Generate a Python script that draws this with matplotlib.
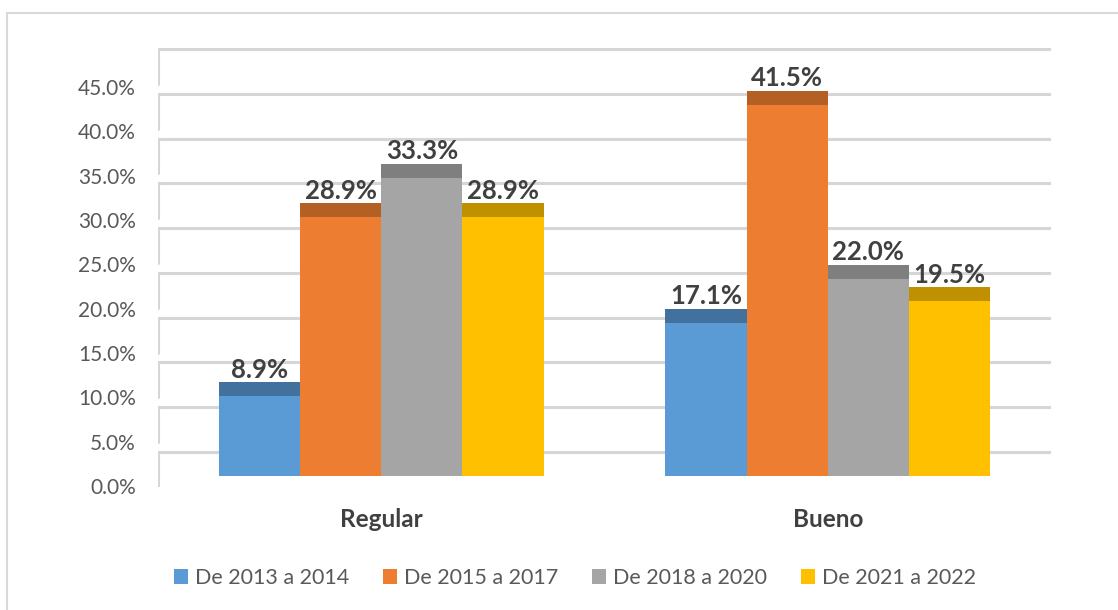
import matplotlib.pyplot as plt
from matplotlib.patches import Patch
from matplotlib.lines import Line2D
import numpy as np

# Data
categories = ["Regular", "Bueno"]
series = ["De 2013 a 2014", "De 2015 a 2017", "De 2018 a 2020", "De 2021 a 2022"]
v_2013_2014 = [8.9, 17.1]
v_2015_2017 = [28.9, 41.5]
v_2018_2020 = [33.3, 22.0]
v_2021_2022 = [28.9, 19.5]
values = [v_2013_2014, v_2015_2017, v_2018_2020, v_2021_2022]
tick_values = [0, 5, 10, 15, 20, 25, 30, 35, 40, 45]

colors = ["#5B9BD5", "#ED7D31", "#A5A5A5", "#FFC000"]
top_colors = ["#41719C", "#B45F24", "#7F7F7F", "#BF9000"]

plt.rcParams['font.family'] = ['Lato', 'DejaVu Sans']

fig = plt.figure(figsize=(11.18, 6.10), dpi=100)
rect = [158 / 1118, 1 - 487 / 610, (1051 - 158) / 1118, (487 - 47) / 610]

# back wall (gridlines), front plane (labels), bar plane
ax_back = fig.add_axes(rect)
ax_front = fig.add_axes(rect)
ax = fig.add_axes(rect)
for a in (ax_back, ax_front, ax):
    a.patch.set_alpha(0)
    for s in a.spines.values():
        s.set_visible(False)
    a.set_xlim(-0.5, 1.5)

grid_col = "#D6D6D6"
ax_back.set_ylim(-3.91, 45.22)
ax_back.hlines(tick_values, -0.5, 1.5, color=grid_col, lw=2.2, capstyle='round')
ax_back.vlines([-0.5] * len(tick_values), np.array(tick_values) - 3.9, tick_values,
               color=grid_col, lw=2.2, capstyle='round')
ax_back.set_xticks([])
ax_back.set_yticks([])

ax_front.set_ylim(-0.11, 49.51)
ax_front.set_yticks(tick_values, [f"{v:.1f}%" for v in tick_values])
ax_front.tick_params(axis='y', length=0, pad=16, labelsize=15, labelcolor="#595959")
ax_front.set_xticks([])

# bars
ax.set_ylim(-1.23, 47.93)
x = np.arange(len(categories))
w = 0.1818
cap = 1.56
for i, vals in enumerate(values):
    xs = x + (i - 1.5) * w
    ax.bar(xs, vals, width=w, color=colors[i], edgecolor="none", zorder=3)
    ax.bar(xs, [cap] * len(vals), bottom=vals, width=w, color=top_colors[i], edgecolor="none", zorder=3)
    for xi, v in zip(xs, vals):
        ax.annotate(f"{v:.1f}%", (xi, v + cap), xytext=(0, 0.5), textcoords='offset points',
                    ha='center', va='bottom', fontsize=18.5, fontweight='bold', color="#404040")

ax.set_yticks([])
ax.set_xticks(x, categories)
ax.tick_params(axis='x', length=0, pad=15, labelsize=17.5, labelcolor="#404040")
for lbl in ax.get_xticklabels():
    lbl.set_fontweight('bold')

handles = [Patch(facecolor=c, edgecolor='none') for c in colors]
fig.legend(handles, series, loc='center', bbox_to_anchor=(575 / 1118, 1 - 578 / 610), ncol=4,
           frameon=False, fontsize=15.5, labelcolor="#595959", handlelength=0.65, handleheight=0.65,
           handletextpad=0.3, columnspacing=1.6)

# chart border (only top and left visible)
fig.add_artist(Line2D([7 / 1118, 7 / 1118], [0, 1 - 13 / 610], color="#D9D9D9", lw=1.5))
fig.add_artist(Line2D([7 / 1118, 1], [1 - 13 / 610, 1 - 13 / 610], color="#D9D9D9", lw=1.5))

fig.savefig("out.png", dpi=100)
